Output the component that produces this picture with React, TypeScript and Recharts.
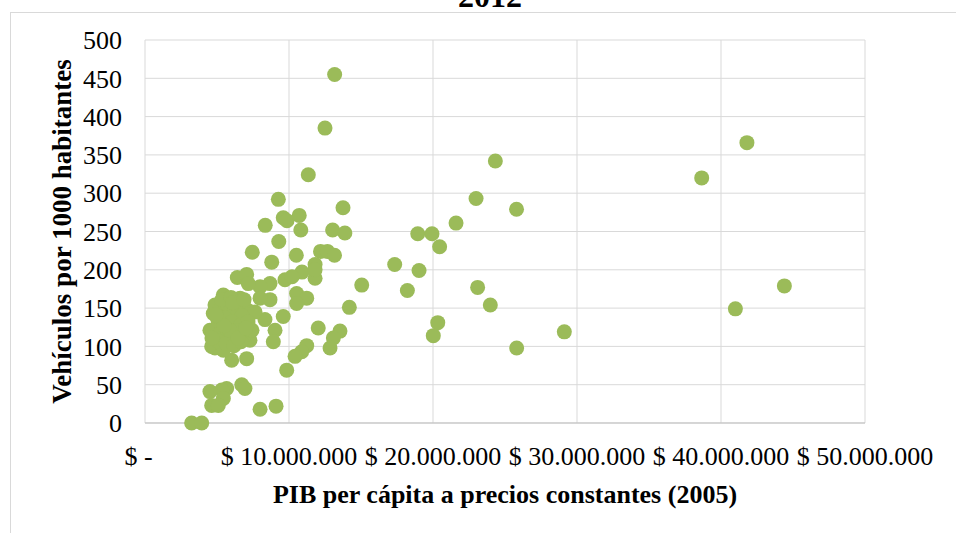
import React from 'react';
import { ScatterChart, Scatter, XAxis, YAxis, CartesianGrid, Label } from 'recharts';

// GDP per capita at constant 2005 prices (millions of pesos)
const gdpMillions = [
  13.17, 12.5, 11.34, 9.26, 13.75, 8.35, 9.6, 9.86, 10.71, 10.82,
  13.03, 13.88, 9.29, 7.45, 10.51, 12.19, 12.67, 13.16, 8.8, 11.81,
  10.9, 8.68, 9.72, 11.81, 7.99, 15.05, 10.53, 11.23, 10.53, 8.68,
  14.19, 8.33, 9.6, 9.03, 12.03, 13.54, 13.08, 12.85, 8.91, 11.23,
  10.88, 10.42, 9.84, 7.29, 7.06, 6.02, 6.72, 6.94, 5.67, 5.33,
  4.51, 5.44, 4.63, 5.09, 7.99, 9.1, 3.24, 3.94, 6.41, 7.06,
  7.17, 10.21, 11.81, 5.44, 7.99, 6.6, 7.06, 7.64, 4.74, 4.51,
  4.63, 4.86, 5.44,
  4.86, 5.21, 5.76, 6.25, 6.74, 5.07, 5.56, 6.04, 6.6, 7.15,
  4.72, 5.21, 5.76, 6.32, 6.88, 7.43, 5.07, 5.63, 6.18, 6.67,
  5.35, 5.97, 4.65, 5.9, 6.46, 5.49, 7.0, 4.93, 6.1, 6.88,
  24.33, 22.99, 25.8, 21.6, 18.94, 19.93, 20.46, 17.34, 19.03, 18.22,
  23.1, 23.98, 20.33, 20.02, 29.12, 25.81, 41.8, 38.66, 44.4, 41.0,
];

// Vehicles per 1000 inhabitants
const vehiclesPer1000 = [
  455, 385, 324, 292, 281, 258, 268, 264, 271, 252,
  252, 248, 237, 223, 219, 224, 224, 219, 210, 207,
  197, 182, 187, 189, 178, 180, 169, 163, 156, 161,
  151, 135, 139, 121, 124, 120, 111, 98, 106, 101,
  93, 87, 69, 108, 84, 82, 50, 45, 45, 43,
  41, 32, 23, 23, 18, 22, 0, 0, 190, 194,
  182, 191, 200, 167, 163, 163, 148, 145, 143, 121,
  100, 98, 95,
  154, 148, 154, 148, 140, 134, 137, 132, 127, 132,
  121, 117, 114, 120, 114, 121, 107, 104, 101, 106,
  161, 164, 111, 121, 111, 127, 124, 141, 157, 161,
  342, 293, 279, 261, 247, 247, 230, 207, 199, 173,
  177, 154, 131, 114, 119, 98, 366, 320, 179, 149,
];

const xTicks = [0, 10000000, 20000000, 30000000, 40000000, 50000000];
const yTicks = [0, 50, 100, 150, 200, 250, 300, 350, 400, 450, 500];

const chartTitle = '2012';
const xTitle = 'PIB per cápita a precios constantes (2005)';
const yTitle = 'Vehículos por 1000 habitantes';

const points = gdpMillions.map((g, i) => ({ x: g * 1000000, y: vehiclesPer1000[i] }));

const FONT = '"Liberation Serif", "Times New Roman", serif';
const GREEN = '#9bbb59';
const GRID = '#d9d9d9';

function formatPesos(v: number): string {
  if (v === 0) return '$ -\u00A0\u00A0';
  const s = Math.round(v).toString().replace(/\B(?=(\d{3})+(?!\d))/g, '.');
  return '$ ' + s;
}

const Dot = (props: any) => {
  const { cx, cy } = props;
  if (cx == null || cy == null) return null;
  return <circle cx={cx} cy={cy} r={7.5} fill={GREEN} />;
};

export default function App() {
  return (
    <div
      style={{
        position: 'absolute',
        left: 0,
        top: 0,
        width: 956,
        height: 533,
        overflow: 'hidden',
        background: '#fff',
        fontFamily: FONT,
      }}
    >
      {/* chart area frame */}
      <div
        style={{
          position: 'absolute',
          left: 10,
          top: 12,
          width: 1100,
          height: 700,
          border: `1px solid ${GRID}`,
          boxSizing: 'border-box',
        }}
      />
      <svg
        width={956}
        height={40}
        style={{ position: 'absolute', left: 0, top: 0 }}
      >
        <text
          x={490}
          y={7}
          textAnchor="middle"
          fontFamily={FONT}
          fontWeight="bold"
          fontSize={32}
          fill="#000"
        >
          {chartTitle}
        </text>
      </svg>
      <div style={{ position: 'absolute', left: 0, top: 0 }}>
        <ScatterChart
          width={956}
          height={533}
          margin={{ top: 40, right: 91, bottom: 0, left: 0 }}
        >
          <CartesianGrid stroke={GRID} strokeWidth={1} />
          <XAxis
            type="number"
            dataKey="x"
            domain={[0, 50000000]}
            ticks={xTicks}
            interval={0}
            height={110}
            tickLine={false}
            tickSize={0}
            tickMargin={24}
            axisLine={{ stroke: '#bfbfbf', strokeWidth: 1 }}
            tickFormatter={formatPesos}
            tick={{ fill: '#000', fontSize: 26, fontFamily: FONT }}
          >
            <Label
              value={xTitle}
              position="insideBottom"
              offset={30}
              style={{ fontWeight: 'bold', fontSize: 26, fill: '#000', fontFamily: FONT }}
            />
          </XAxis>
          <YAxis
            type="number"
            dataKey="y"
            domain={[0, 500]}
            ticks={yTicks}
            interval={0}
            width={145}
            tickLine={false}
            axisLine={false}
            tickSize={0}
            tickMargin={23}
            tick={{ fill: '#000', fontSize: 26, fontFamily: FONT }}
          >
            <Label
              value={yTitle}
              angle={-90}
              position="center"
              dx={-11}
              style={{
                fontWeight: 'bold',
                fontSize: 27,
                fill: '#000',
                fontFamily: FONT,
                textAnchor: 'middle',
              }}
            />
          </YAxis>
          <Scatter data={points} fill={GREEN} shape={<Dot />} isAnimationActive={false} />
        </ScatterChart>
      </div>
    </div>
  );
}
